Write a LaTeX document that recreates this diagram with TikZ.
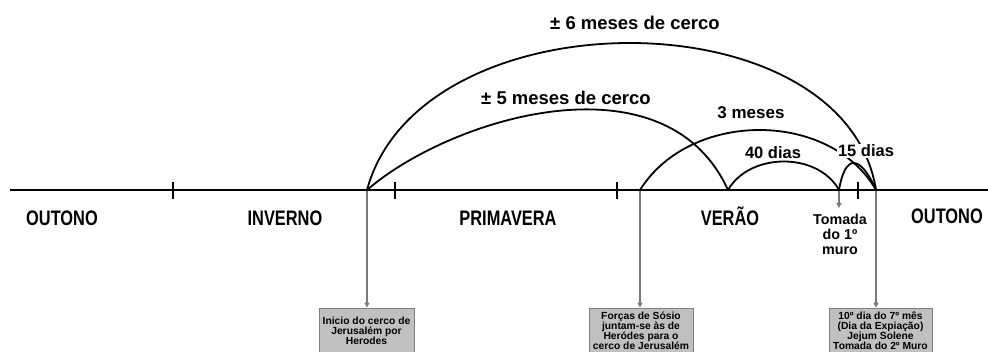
\documentclass[tikz,border=0pt]{standalone}
\usepackage{fontspec}
\setmainfont{Liberation Sans}
\newfontfamily\seasonfont[FakeStretch=0.78]{Liberation Sans}
\usetikzlibrary{arrows.meta}
\definecolor{arrowgray}{HTML}{7A7A7A}
\definecolor{boxfill}{HTML}{C0C0C0}
\definecolor{boxline}{HTML}{7F7F7F}
\tikzset{
  axis/.style={line width=2.4pt, black},
  tickmark/.style={line width=1.8pt, black},
  arcline/.style={line width=1.8pt, black},
  season/.style={font=\seasonfont\bfseries\fontsize{21}{22}\selectfont, inner sep=0pt, anchor=base},
  arclabel/.style={font=\bfseries\fontsize{18.5}{20}\selectfont, inner sep=0pt},
  smalllabel/.style={font=\bfseries\fontsize{16.5}{18}\selectfont, inner sep=0pt},
  infobox/.style={draw=boxline, fill=boxfill, line width=0.8pt, minimum width=#1, minimum height=45pt, inner sep=0pt, align=center, font=\bfseries\fontsize{10.3}{10}\selectfont},
  grayarrow/.style={draw=arrowgray, line width=1.8pt, -{Triangle[length=5pt,width=5pt]}},
}
\begin{document}
\begin{tikzpicture}[x=1pt, y=-1pt]
\useasboundingbox (0,0) rectangle (988,352);
% timeline points
\coordinate (L) at (10,190);
\coordinate (R) at (988,190);
\coordinate (A) at (367,190);
\coordinate (B) at (640,190);
\coordinate (M) at (728,190);
\coordinate (T) at (839,190);
\coordinate (E) at (876,190);
% gray arrows
\coordinate (Tend) at (839,208);
\node[infobox=95pt] (box1) at (366.5,330.5) {Inicio do cerco de\\Jerusalém por\\Herodes};
\node[infobox=104pt] (box2) at (641,330.5) {Forças de Sósio\\juntam-se às de\\Heródes para o\\cerco de Jerusalém};
\node[infobox=103pt] (box3) at (880.5,330.5) {10º dia do 7º mês\\(Dia da Expiação)\\Jejum Solene\\Tomada do 2º Muro};
\draw[grayarrow] (A) -- (A |- box1.north);
\draw[grayarrow] (B) -- (B |- box2.north);
\draw[grayarrow] (E) -- (E |- box3.north);
\draw[grayarrow] (T) -- (Tend);
% axis and ticks
\draw[axis] (L) -- (R);
\foreach \x/\n in {173/t1,395/t2,617/t3,858/t4}{
  \coordinate (\n a) at (\x,182);
  \coordinate (\n b) at (\x,199);
  \draw[tickmark] (\n a) -- (\n b);
}
% arcs
\draw[arcline] (A) .. controls (420,-6) and (845,-6) .. (E);
\draw[arcline] (A) .. controls (450,118) and (665,52) .. (M);
\draw[arcline] (B) .. controls (690,110) and (830,110) .. (E);
\draw[arcline] (M) .. controls (750,152) and (818,152) .. (T);
\draw[arcline] (T) .. controls (845,154) and (860,154) .. (E);
% arc labels
\node[arclabel] (l6) at (635,23) {± 6 meses de cerco};
\node[arclabel] (l5) at (566,98) {± 5 meses de cerco};
\node[smalllabel, font=\bfseries\fontsize{17}{18}\selectfont] (l3) at (751,113) {3 meses};
\node[smalllabel] (l40) at (773,153) {40 dias};
\node[smalllabel, fill=white, inner sep=1pt] (l15) at (866,151) {15 dias};
% seasons
\node[season] (s1) at (62,226) {OUTONO};
\node[season] (s2) at (285,226) {INVERNO};
\node[season] (s3) at (508,226) {PRIMAVERA};
\node[season] (s4) at (730,226) {VERÃO};
\node[season] (s5) at (947,224) {OUTONO};
% tomada
\node[font=\bfseries\fontsize{14.3}{15}\selectfont, align=center, inner sep=0pt, anchor=north] (tom) at (840,214) {Tomada\\do 1º\\muro};
\end{tikzpicture}
\end{document}
